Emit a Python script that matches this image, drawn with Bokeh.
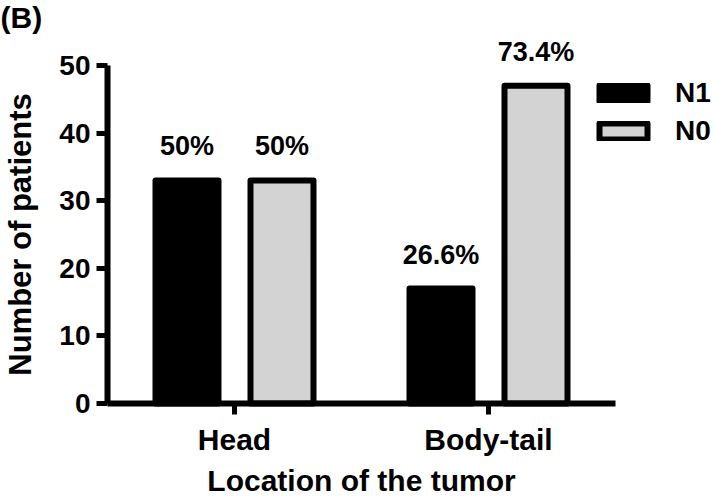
from bokeh.plotting import figure
from bokeh.models import (Range1d, LabelSet, ColumnDataSource, Legend,
                          LegendItem, Label, FixedTicker)
from bokeh.core.properties import value
from bokeh.transform import dodge
from bokeh.embed import file_html
from bokeh.resources import INLINE

locations = ["Head", "Body-tail"]
n1_counts = [33, 17]
n0_counts = [33, 47]
n1_pct = ["50%", "26.6%"]
n0_pct = ["50%", "73.4%"]
y_ticks = [0, 10, 20, 30, 40, 50]

FONT = "Liberation Sans"

x_pos = [i + 0.5 for i in range(len(locations))]
src = ColumnDataSource(data=dict(x=x_pos, n1=n1_counts, n0=n0_counts,
                                 p1=n1_pct, p0=n0_pct))

W, H = 713, 497
PX_X = 254.0          # pixels per category
X0 = 107.0            # canvas x of category axis start
PX_Y = 338.0 / 50     # pixels per patient
Y0 = 403.0            # canvas y of zero line

p = figure(width=W, height=H,
           x_range=Range1d(-X0 / PX_X, (W - X0) / PX_X),
           y_range=Range1d(-(H - Y0) / PX_Y, Y0 / PX_Y),
           output_backend="svg", toolbar_location=None,
           min_border_left=0, min_border_right=0,
           min_border_top=0, min_border_bottom=0)
p.outline_line_color = None
p.xgrid.grid_line_color = None
p.ygrid.grid_line_color = None

off = 0.187
w = 0.248
r1 = p.vbar(x=dodge('x', -off), top='n1', width=w, source=src,
            fill_color="black", line_color="black", line_width=6, line_join="round")
r0 = p.vbar(x=dodge('x', off), top='n0', width=w, source=src,
            fill_color="#d3d3d3", line_color="black", line_width=6, line_join="round")

for fld, cnt, o in (("p1", "n1", -off), ("p0", "n0", off)):
    ls = LabelSet(x=dodge('x', o), y=cnt, text=fld,
                  source=src, text_align="center", text_baseline="alphabetic",
                  y_offset=25, text_font=value(FONT), text_font_style="bold",
                  text_font_size="27px", text_color="black")
    p.add_layout(ls)

xa = p.xaxis[0]
ya = p.yaxis[0]
for ax in (xa, ya):
    ax.axis_line_width = 6
    ax.major_tick_line_width = 5
    ax.major_tick_out = 11
    ax.major_tick_in = 0
    ax.minor_tick_line_color = None
    ax.major_label_text_font = FONT
    ax.major_label_text_font_style = "bold"
    ax.major_label_text_color = "black"
    ax.axis_label_text_font = FONT
    ax.axis_label_text_font_style = "bold"
    ax.axis_label_text_color = "black"

ya.fixed_location = 0
ya.bounds = (y_ticks[0], y_ticks[-1])
ya.ticker = FixedTicker(ticks=y_ticks)
ya.major_label_text_font_size = "28px"
ya.major_label_standoff = 6
ya.axis_label = "Number of patients"
ya.axis_label_text_font_size = "31px"
ya.axis_label_standoff = 18

xa.fixed_location = 0
xa.bounds = (0, len(locations))
xa.ticker = FixedTicker(ticks=x_pos)
xa.major_label_overrides = {xv: name for xv, name in zip(x_pos, locations)}
xa.major_label_text_font_size = "30px"
xa.major_label_standoff = 8
xa.axis_label = "Location of the tumor"
xa.axis_label_text_font_size = "30px"
xa.axis_label_standoff = 5

legend = Legend(items=[LegendItem(label="N1", renderers=[r1]),
                       LegendItem(label="N0", renderers=[r0])],
                location=(593, 350), orientation="vertical",
                glyph_width=60, glyph_height=20, label_height=20,
                label_standoff=22, spacing=6, padding=0, margin=0,
                border_line_alpha=0, background_fill_alpha=0,
                label_text_font=FONT, label_text_font_style="bold",
                label_text_font_size="28px", label_text_color="black")
p.add_layout(legend, "center")

tag = Label(x=0, y=H, x_units="screen", y_units="screen", text="(B)",
            text_font=FONT, text_font_style="bold", text_font_size="30px",
            text_baseline="top", text_align="left", text_color="black")
p.add_layout(tag)

open("out.html", "w").write(file_html(p, INLINE))
